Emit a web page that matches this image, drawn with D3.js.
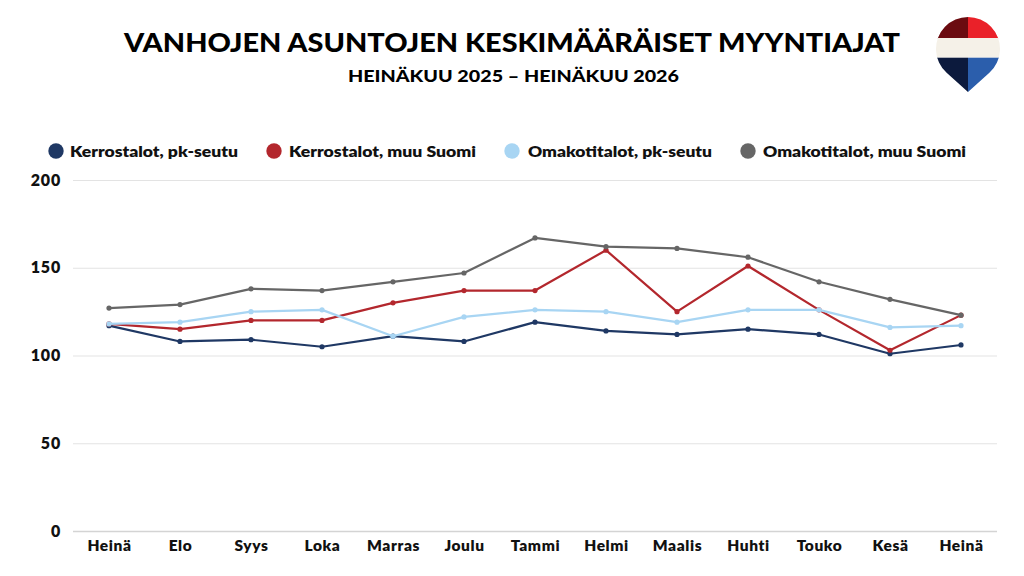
<!DOCTYPE html>
<html><head><meta charset="utf-8">
<script src="https://cdn.jsdelivr.net/npm/d3@7"></script>
<style>body{margin:0;background:#fff}svg{display:block}text{font-family:Lato,"Open Sans",sans-serif}</style>
</head><body><svg id="c" width="1024" height="576"></svg>
<script>
const months = ["Heinä","Elo","Syys","Loka","Marras","Joulu","Tammi","Helmi","Maalis","Huhti","Touko","Kesä","Heinä"];
const seriesNames = ["Kerrostalot, pk-seutu","Kerrostalot, muu Suomi","Omakotitalot, pk-seutu","Omakotitalot, muu Suomi"];
const kerrostalotPk = [117,108,109,105,111,108,119,114,112,115,112,101,106];
const kerrostalotMuu = [118,115,120,120,130,137,137,160,125,151,126,103,123];
const omakotiPk = [118,119,125,126,111,122,126,125,119,126,126,116,117];
const omakotiMuu = [127,129,138,137,142,147,167,162,161,156,142,132,123];
const yTicks = [0,50,100,150,200];
const colors = ["#1f3864","#b3272d","#a8d5f3","#666666"];
const allSeries = [kerrostalotPk,kerrostalotMuu,omakotiPk,omakotiMuu];

const svg = d3.select("#c");
const x = d3.scalePoint().domain(d3.range(months.length)).range([109,961]);
const y = d3.scaleLinear().domain([0,200]).range([531,180]);

// title
svg.append("text").attr("x",124).attr("y",52)
  .attr("textLength",776).attr("lengthAdjust","spacingAndGlyphs")
  .style("font-size","26px").style("font-weight",900).attr("fill","#000")
  .text("VANHOJEN ASUNTOJEN KESKIMÄÄRÄISET MYYNTIAJAT");
svg.append("text").attr("x",348).attr("y",82)
  .attr("textLength",331).attr("lengthAdjust","spacingAndGlyphs")
  .style("font-size","17px").style("font-weight",900).attr("fill","#000")
  .text("HEINÄKUU 2025 – HEINÄKUU 2026");

// grid
const yAxis = d3.axisLeft(y).tickValues(yTicks).tickSize(-(997-73)).tickPadding(10);
const gy = svg.append("g").attr("transform","translate(73,0)").call(yAxis);
gy.select(".domain").remove();
gy.selectAll(".tick line").attr("stroke",d=>d===0?"#d4d4d4":"#e3e3e3").attr("stroke-width",d=>d===0?1.5:1);
gy.selectAll(".tick text").attr("fill","#111").style("font-size","16px").style("font-weight",800)
  .style("letter-spacing","0.8px").attr("x",-12);

const xAxis = d3.axisBottom(x).tickFormat(i=>months[i]).tickSize(0).tickPadding(9);
const gx = svg.append("g").attr("transform","translate(0,531)").call(xAxis);
gx.select(".domain").remove();
gx.selectAll(".tick text").attr("fill","#111").style("font-size","15.5px").style("font-weight",800)
  .style("letter-spacing","0.6px");

// lines
const line = d3.line().x((d,i)=>x(i)).y(d=>y(d));
allSeries.forEach((s,k)=>{
  svg.append("path").datum(s).attr("d",line).attr("fill","none").attr("stroke",colors[k]).attr("stroke-width",2.2).attr("stroke-linejoin","round");
  svg.append("g").selectAll("circle").data(s).join("circle")
    .attr("cx",(d,i)=>x(i)).attr("cy",d=>y(d)).attr("r",2.6).attr("fill",colors[k]);
});

// legend
const legendPos = [[56,70,238],[274,289,476],[512,528,712],[748,763,966]];
seriesNames.forEach((n,k)=>{
  svg.append("circle").attr("cx",legendPos[k][0]).attr("cy",151).attr("r",7.7).attr("fill",colors[k]);
  svg.append("text").attr("x",legendPos[k][1]).attr("y",156.5)
    .attr("textLength",legendPos[k][2]-legendPos[k][1]).attr("lengthAdjust","spacingAndGlyphs")
    .style("font-size","15.5px").style("font-weight",800).attr("fill","#111").text(n);
});

// logo pin
const cx=968, cy=49, r=32, py=92;
const dd = py-cy;
const tA = Math.acos(r/dd);
const lx = cx - r*Math.sin(tA), ly = cy + r*Math.cos(tA);
const rx = cx + r*Math.sin(tA);
const pinPath = `M${cx},${py} L${lx},${ly} A${r},${r} 0 1 1 ${rx},${ly} Z`;
const defs = svg.append("defs");
defs.append("clipPath").attr("id","pin").append("path").attr("d",pinPath);
const lg = svg.append("g").attr("clip-path","url(#pin)");
lg.append("rect").attr("x",cx-r).attr("y",cy-r).attr("width",r).attr("height",21.5).attr("fill","#6b0b10");
lg.append("rect").attr("x",cx).attr("y",cy-r).attr("width",r).attr("height",21.5).attr("fill","#ea2129");
lg.append("rect").attr("x",cx-r).attr("y",38).attr("width",2*r).attr("height",19.7).attr("fill","#f5f1e8");
lg.append("rect").attr("x",cx-r).attr("y",57.7).attr("width",r).attr("height",40).attr("fill","#0c1a3d");
lg.append("rect").attr("x",cx).attr("y",57.7).attr("width",r).attr("height",40).attr("fill","#2b5eac");
</script></body></html>
